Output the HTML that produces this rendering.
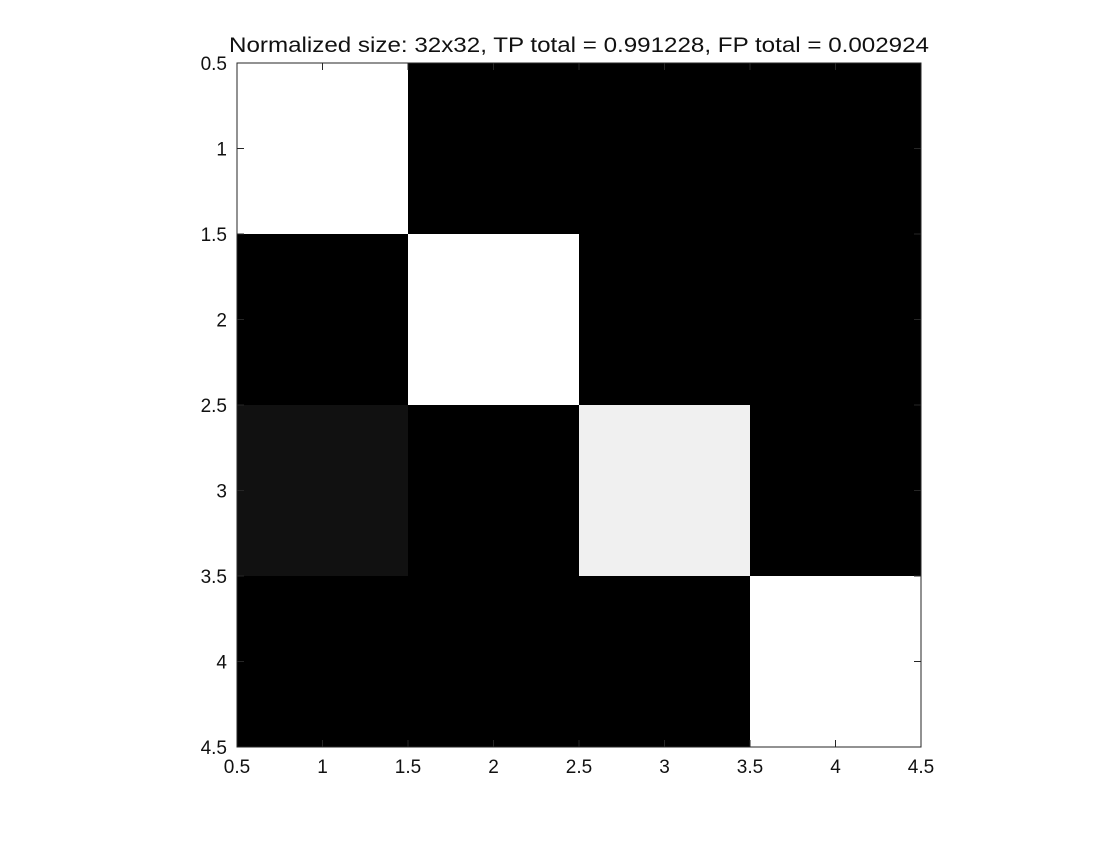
<!DOCTYPE html>
<html><head><meta charset="utf-8"><style>
body{margin:0;background:#fff;}
svg text{font-family:"Liberation Sans",Arial,sans-serif;fill:#111;}
</style></head><body>
<svg width="1120" height="840" xmlns="http://www.w3.org/2000/svg">
<rect width="1120" height="840" fill="#fff"/>
<text x="579" y="52" text-anchor="middle" font-size="21" textLength="700" lengthAdjust="spacingAndGlyphs">Normalized size: 32x32, TP total = 0.991228, FP total = 0.002924</text>
<g id="cells"></g>
<g id="axes"></g>
</svg>
<script>
const rowsLabels=[1,2,3,4];
const colsLabels=[1,2,3,4];
const matrixRow1=[1,0,0,0];
const matrixRow2=[0,1,0,0];
const matrixRow3=[0.067,0,0.94,0];
const matrixRow4=[0,0,0,1];
const tickLabels=["0.5","1","1.5","2","2.5","3","3.5","4","4.5"];
const tickValues=[0.5,1,1.5,2,2.5,3,3.5,4,4.5];

const L=237,T=63,W=684,H=684,minV=0.5,maxV=4.5;
const xs=v=>L+(v-minV)/(maxV-minV)*W;
const ys=v=>T+(v-minV)/(maxV-minV)*H;
const NS="http://www.w3.org/2000/svg";
const rows=[matrixRow1,matrixRow2,matrixRow3,matrixRow4];
const cg=document.getElementById('cells');
rows.forEach((row,i)=>row.forEach((v,j)=>{
  const r=document.createElementNS(NS,'rect');
  const x0=xs(colsLabels[j]-0.5),x1=xs(colsLabels[j]+0.5);
  const y0=ys(rowsLabels[i]-0.5),y1=ys(rowsLabels[i]+0.5);
  r.setAttribute('x',x0);r.setAttribute('y',y0);
  r.setAttribute('width',x1-x0);r.setAttribute('height',y1-y0);
  const c=Math.round(Math.max(0,Math.min(1,v))*255);
  r.setAttribute('fill',`rgb(${c},${c},${c})`);
  
  
  cg.appendChild(r);
}));
const ag=document.getElementById('axes');
function line(x1,y1,x2,y2){const l=document.createElementNS(NS,'line');
l.setAttribute('x1',x1);l.setAttribute('y1',y1);l.setAttribute('x2',x2);l.setAttribute('y2',y2);
l.setAttribute('stroke','#262626');l.setAttribute('stroke-width','1');ag.appendChild(l);return l;}
const box=document.createElementNS(NS,'rect');
box.setAttribute('x',L);box.setAttribute('y',T);box.setAttribute('width',W);box.setAttribute('height',H);
box.setAttribute('fill','none');box.setAttribute('stroke','#262626');


ag.appendChild(box);
const tl=7;
tickValues.forEach((v,k)=>{
  const x=xs(v),y=ys(v);
  line(x,T+H,x,T+H-tl);line(x,T,x,T+tl);
  line(L,y,L+tl,y);line(L+W,y,L+W-tl,y);
  const tx=document.createElementNS(NS,'text');
  tx.setAttribute('x',x);tx.setAttribute('y',T+H+26);tx.setAttribute('text-anchor','middle');tx.setAttribute('font-size','19');
  tx.textContent=tickLabels[k];
  
  
  ag.appendChild(tx);
  const ty=document.createElementNS(NS,'text');
  ty.setAttribute('x',L-10);ty.setAttribute('y',y+7);ty.setAttribute('text-anchor','end');ty.setAttribute('font-size','19');
  ty.textContent=tickLabels[k];
  
  
  ag.appendChild(ty);
});
</script>
</body></html>
